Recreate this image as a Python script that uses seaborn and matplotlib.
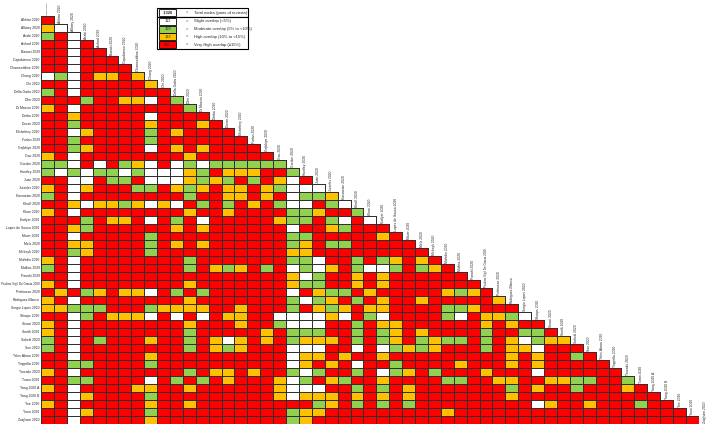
import numpy as np
import pandas as pd
import matplotlib
matplotlib.use("Agg")
import matplotlib.pyplot as plt
from matplotlib.colors import ListedColormap, to_rgba
from matplotlib.patches import Rectangle
import seaborn as sns

# ---------------- data ----------------
first_review = "Abdollahpour"
row_labels = ["Akhtar 2020", "Allotey 2020", "Arabi 2020", "Ashraf 2020", "Banaei 2020",
              "Capobianco 2020", "Chamseddine 2020", "Chang 2020", "Chi 2020", "Della Gatta 2020",
              "Dhir 2020", "Di Mascio 2020", "Diriba 2020", "Duran 2020", "Elshafeey 2020",
              "Furlan 2020", "Gajbhiye 2020", "Gao 2020", "Gordon 2020", "Huntley 2020",
              "Juan 2020", "Jutzeler 2020", "Kasraeian 2020", "Khalil 2020", "Khan 2020",
              "Kotlyar 2020", "Lopes de Sousa 2020", "Matar 2020", "Melo 2020", "Mirbeyk 2020",
              "Muhidin 2020", "Mullins 2020", "Panahi 2020", "Paulino Vigil De Gracia 2020",
              "Pettirosso 2020", "Rodriguez-Blanco", "Sergio Lopes 2020", "Sharps 2020",
              "Sinaci 2020", "Smith 2020", "Soheili 2020", "Sun 2020", "Teles Abrao 2020",
              "Trippella 2020", "Trocado 2020", "Turan 2020", "Yang 2020 A", "Yang 2020 B",
              "Yee 2020", "Yoon 2020", "Zaigham 2020"]
column_labels = [first_review] + row_labels   # 52 reviews (last one has no column of cells)

# overlap class per pair: W slight, G moderate, O high, R very high
overlap_rows = [
    "R",
    "OW",
    "GRW",
    "RRWR",
    "RRWRR",
    "RRWRRR",
    "RRWRRRR",
    "WGWROORO",
    "RRWRRRRRO",
    "GRWRRRRRRR",
    "RRRGRROOWRG",
    "ORWRRRRRRRRG",
    "RRORRRRRWRRRR",
    "RRGRRRRRORRROR",
    "RRWORRRRGRORRRR",
    "RRGRRRRRGRRRRRRR",
    "RRGORRRRWRORORRRR",
    "ORWRRRRRRRRORRRRRR",
    "GGWRWRGOWRWGWGGGGGG",
    "GWGWGGWGWWWOGROOORRG",
    "RRWWRGGRWWWOGOGRGROWR",
    "ORWORRRGGROGOROOROGWWW",
    "GRWRRRRRRRR" + "GRROOROR" + "WGGO",
    "RROWOOGOWOW" + "RGRGRORG" + "WWRGW",
    "ORWRRRRRRRR" + "ORRORRRR" + "GGORRG",
    "RRRGROORWRG" + "RWRRRRRO" + "GGRGWRW",
    "RROGRRRRRRO" + "RORRRRRR" + "WRROGRRR",
    "RRWRRRRRGRR" + "RRRRRRRR" + "GGRRRRROR",
    "RROORRRRGRO" + "RORRRRRR" + "GORGGRRRRR",
    "RRGORRRRGRR" + "RRRRRRRR" + "OO" + "RRRRRRRRR",
    "ORWRRRRRRRR" + "GRRRRRRR" + "GGWRRG" + "RGOROR",
    "GRWRRRRRRRR" + "GROGORGRWGWORGW" + "WGRGOR",
    "RRWRRRRRRRR" + "RRRRRRRROWGRROR" + "ORRRRRR",
    "ORWRRRRRRRR" + "ORRRRRRROGGRROR" + "ORRRRRRR",
    "RORGOROOWRG" + "RGRRRRRRWROGGRO" + "RRRRROGOR",
    "ORWRRRRRRRR" + "ORRRRRRRGWGORGR" + "ORRORRRRRO",
    "OOGGGRRRGOO" + "OORRORRRGROGORO" + "ORRRRGGORRR",
    "RRWGROOOWRW" + "RWROORRWWWWOWRG" + "WRRRRGWROOGW",
    "ORWRRRRRRRR" + "ORRRORRGWWWRRGR" + "OORRRRRROROR" + "R",
    "ORWRRRRRRRR" + "GRRRRRORGGGRRGR" + "GORORRRRGRRG" + "GR",
    "GRWRGRRRORR" + "GROWORORGOOORGR" + "GORGOGGRGROW" + "GOO",
    "GRWRRRRRRRR" + "GROGORRRWWWRRWR" + "WGOGORRRGROO" + "WRRR",
    "RRWRRRRRORR" + "RRRRRRRRWOORORR" + "ORRRRRRRRROR" + "ORRGR",
    "RRGGRRRRGRR" + "RRRRRRRRWORORWR" + "RGRRRRORRROR" + "ORRRRR",
    "ORWRRRRRRRR" + "GROORORRGWGRRGR" + "WGORGRRRORRR" + "WRRRRRR",
    "RRGGRRRRWRG" + "RGRORRROWGROGRR" + "ORRRRGGRROOR" + "ROOGGRRG",
    "ORWRRRROORR" + "ORRRRRROWWWRRGR" + "GRORRRRRRRGR" + "ORRGRRROR",
    "RRWORRRRGRR" + "RRRRRRROWOOOROR" + "ORORRRRRRROR" + "RRRRRRRRRR",
    "ORWRRRRRORR" + "ORRRRRRRRRGORGR" + "GRGRRRRRRRRR" + "WORRORRRGRR",
    "RRWORRRRGRR" + "RRRRRRRRGOORRRR" + "RRRRRORRRRRR" + "RRRRRRRRRRRR",
    "RRWRRRRRORR" + "RRRRRRRRGORRRRR" + "RRRRRRRRRRRR" + "RRRRRRRRRRRRR",
]

category_codes = ["W", "G", "O", "R"]
category_names = ["Slight overlap (<5%)", "Moderate overlap (5% to <10%)",
                  "High overlap (10% to <15%)", "Very High overlap (\u226515%)"]
category_counts = ["112", "160", "183", "869"]
category_colors = ["#FFFFFF", "#92D050", "#FFC000", "#FF0000"]
total_nodes = "1,326"
total_text = "Total nodes (pairs of reviews)"

# ---------------- build matrix ----------------
n = len(row_labels)
mat = np.full((n, n), np.nan)
for r, s in enumerate(overlap_rows):
    for c, ch in enumerate(s):
        mat[r, c] = category_codes.index(ch)
df = pd.DataFrame(mat, index=row_labels, columns=column_labels[:n])
mask = df.isna()

W, H = 709, 425
fig = plt.figure(figsize=(W / 100, H / 100), dpi=100)
sns.set_style("white")
plt.rcParams["font.family"] = ["Liberation Sans Narrow", "Liberation Sans", "DejaVu Sans"]

left, top, cw, ch_ = 41, 16, 12.9, 8.0
ax = fig.add_axes([left / W, (H - top - n * ch_) / H, n * cw / W, n * ch_ / H])
cmap = ListedColormap(category_colors)
sns.heatmap(df, mask=mask, cmap=cmap, vmin=-0.5, vmax=3.5, cbar=False,
            linewidths=0.6, linecolor="#303030", ax=ax,
            xticklabels=False, yticklabels=True)
# no borders for the empty (masked) upper triangle
mesh = ax.collections[0]
ec = np.tile(to_rgba("#303030"), (mask.size, 1))
ec[mask.values.ravel()] = (0, 0, 0, 0)
mesh.set_edgecolor(ec)

ax.set_xlabel("")
ax.set_ylabel("")
ax.tick_params(axis="y", length=0, pad=1.0)
for t in ax.get_yticklabels():
    t.set_fontsize(2.45)
    t.set_rotation(0)
    if len(t.get_text()) > 22:
        t.set_fontsize(2.2)

# diagonal column labels
for c, lab in enumerate(column_labels):
    fs = 2.45
    if len(lab) > 22:
        fs = 2.2
    if c == 0:
        fs = 1.65
    ax.text(c + 0.5, c - 0.08, lab, rotation=90, ha="center", va="bottom",
            fontsize=fs, clip_on=False)

# ---------------- legend ----------------
def fx(x):
    return x / W

def fy(y):
    return 1 - y / H

def box(x0, y0, x1, y1, fc, lw=0.6, ec="black"):
    fig.patches.append(Rectangle((fx(x0), fy(y1)), fx(x1) - fx(x0), fy(y0) - fy(y1),
                                 transform=fig.transFigure, facecolor=fc,
                                 edgecolor=ec, linewidth=lw, zorder=5))

lx0, lx1 = 157, 248
box(lx0, 8, lx1, 17.2, "white", lw=0.8)
box(lx0, 17.2, lx1, 49, "white", lw=0.8)
box(159, 9.3, 176, 16.2, "white", lw=0.6)
fig.text(fx(167.5), fy(12.8), total_nodes, ha="center", va="center", fontsize=3.0,
         fontweight="bold", zorder=6)
fig.text(fx(187), fy(12.8), "=", ha="center", va="center", fontsize=3.0, zorder=6)
fig.text(fx(194), fy(12.8), total_text, ha="left", va="center", fontsize=3.0, zorder=6)
ys = [17.6, 25.3, 33.0, 40.7, 48.4]
for i in range(4):
    box(159, ys[i] + 0.3, 176, ys[i + 1] - 0.3, category_colors[i], lw=0.6)
    yc = (ys[i] + ys[i + 1]) / 2
    fig.text(fx(167.5), fy(yc), category_counts[i], ha="center", va="center",
             fontsize=2.8, zorder=6)
    fig.text(fx(187), fy(yc), "=", ha="center", va="center", fontsize=3.0, zorder=6)
    fig.text(fx(194), fy(yc), category_names[i], ha="left", va="center",
             fontsize=3.0, zorder=6)

fig.savefig("out.png", dpi=100, facecolor="white")
